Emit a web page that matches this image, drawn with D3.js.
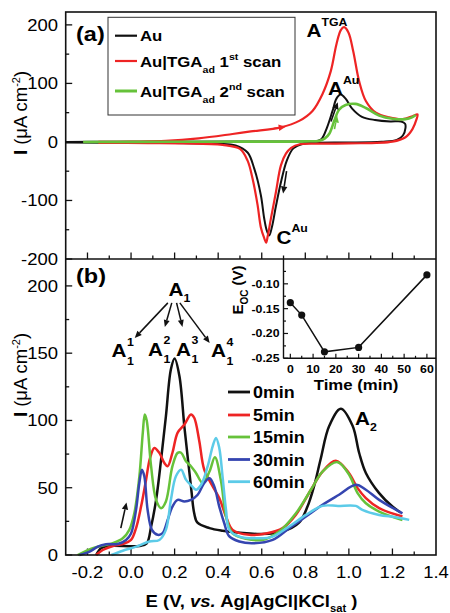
<!DOCTYPE html>
<html><head><meta charset="utf-8">
<script src="https://cdn.jsdelivr.net/npm/d3@7"></script>
<style>body{margin:0;background:#fff}svg{display:block}</style>
</head><body>
<svg id="chart" width="450" height="613"></svg>
<script>
// ---------- DATA ----------
// Panel (a): cyclic voltammograms [E (V), I (uA cm-2)]
const cvAu = [[-0.3,0],[-0.1,0.2],[0.2,0.4],[0.5,0.6],[0.8,0.8],[0.855,1.5],[0.875,5],[0.9,25],[0.925,53],[0.943,74],[0.962,81],[0.985,74],[1.015,57],[1.06,43],[1.12,37.5],[1.19,35],[1.24,35],[1.258,31],[1.26,24],[1.248,11],[1.22,3.5],[1.15,0.5],[1.0,-1],[0.85,-1.5],[0.79,-3],[0.745,-11],[0.715,-32],[0.69,-66],[0.665,-110],[0.647,-145],[0.634,-160],[0.622,-150],[0.611,-130],[0.596,-91],[0.566,-46],[0.535,-18],[0.48,-6],[0.4,-3],[0.2,-2],[0,-1.5],[-0.3,-1]];
const cvTga1 = [[-0.15,0],[0.0,0.5],[0.16,1.7],[0.31,6],[0.466,13.6],[0.55,18],[0.688,25],[0.772,36],[0.833,53],[0.879,82],[0.917,121],[0.943,167],[0.963,191],[0.978,196],[0.998,187],[1.02,155],[1.047,104],[1.078,70],[1.124,50],[1.185,42],[1.246,39],[1.292,44],[1.315,47],[1.31,38],[1.292,22],[1.26,8],[1.2,0.5],[1.0,-2.5],[0.85,-3],[0.775,-4],[0.735,-10],[0.711,-20],[0.688,-40],[0.665,-86],[0.642,-131],[0.628,-160],[0.62,-172],[0.612,-165],[0.596,-146],[0.581,-108],[0.558,-63],[0.535,-32],[0.5,-12],[0.42,-5],[0.24,-2.5],[0.08,-2],[-0.15,-1.5]];
const cvTga2 = [[-0.22,0],[0.2,0.3],[0.5,0.5],[0.8,1],[0.865,2],[0.89,6],[0.91,14],[0.933,36],[0.955,55],[0.985,63],[1.03,65],[1.078,58],[1.139,45],[1.2,39.5],[1.26,39],[1.29,42],[1.307,46]];

// Panel (b): oxidation scans after different times
const scan0 = [[-0.16,0],[-0.138,5],[-0.1,6.7],[0.038,6.7],[0.072,8.7],[0.092,21],[0.115,41],[0.138,71],[0.16,103],[0.183,138],[0.2,146],[0.222,133],[0.245,95],[0.262,70],[0.277,48],[0.29,31],[0.305,24],[0.36,20],[0.42,18],[0.5,16.5],[0.6,15.6],[0.695,17.4],[0.77,23.8],[0.81,36],[0.84,51],[0.87,71],[0.91,96],[0.963,108.7],[1.017,96],[1.047,76],[1.078,61],[1.139,46],[1.2,36],[1.238,31.6]];
const scan5 = [[-0.16,0],[-0.13,3.7],[-0.084,6.7],[-0.038,8.2],[0,11.2],[0.023,20],[0.046,36],[0.069,56],[0.087,72],[0.107,79.6],[0.13,75.9],[0.153,68.4],[0.168,66],[0.19,76],[0.214,91],[0.245,97],[0.275,104.5],[0.29,102],[0.313,85],[0.336,63.4],[0.375,51],[0.405,42.3],[0.436,28.6],[0.466,18.7],[0.543,15],[0.62,16],[0.696,20],[0.757,30],[0.826,48.5],[0.879,62],[0.94,70],[1.0,61],[1.04,49.7],[1.078,42.3],[1.139,34.8],[1.246,28.6]];
const scan15 = [[-0.245,0],[-0.176,5],[-0.13,7],[-0.084,8.7],[-0.038,12.4],[-0.008,18.7],[0.015,31],[0.038,58],[0.054,91],[0.063,104.5],[0.072,100],[0.092,66],[0.115,41],[0.138,34.8],[0.16,39.8],[0.19,66],[0.214,75.9],[0.23,76],[0.252,69.7],[0.275,66],[0.298,61],[0.329,53.5],[0.36,62],[0.385,72.6],[0.413,55],[0.436,28.6],[0.466,16],[0.528,12],[0.604,11.2],[0.68,17.4],[0.757,31],[0.826,48.5],[0.879,62],[0.948,69],[1.0,60],[1.04,46],[1.078,38.5],[1.139,32.3],[1.246,26]];
const scan30 = [[-0.237,0],[-0.19,2.5],[-0.153,6.2],[-0.115,8],[-0.061,8.2],[-0.023,11.2],[0,16],[0.023,33.6],[0.038,53.5],[0.05,63.4],[0.061,58.5],[0.076,33.6],[0.096,18.7],[0.122,15],[0.145,16.2],[0.168,26],[0.19,36],[0.214,41],[0.245,39.8],[0.275,41],[0.306,44.8],[0.336,53.5],[0.36,57],[0.382,51],[0.405,36],[0.428,23.6],[0.45,14],[0.497,10],[0.558,8.7],[0.65,11.2],[0.726,19.9],[0.803,28.6],[0.879,37.3],[0.955,44.8],[1.032,52.2],[1.078,48.5],[1.139,41],[1.246,31]];
const scan60 = [[-0.09,0],[-0.038,3.2],[0.023,6.2],[0.084,10],[0.13,11.2],[0.16,18.7],[0.183,41],[0.206,58.5],[0.23,63.4],[0.252,56],[0.275,52],[0.298,48.5],[0.321,52],[0.352,66],[0.375,81],[0.39,87],[0.405,79.6],[0.42,58.5],[0.436,33.6],[0.451,18.7],[0.497,13.7],[0.59,12.4],[0.65,13.7],[0.726,21.2],[0.803,29.8],[0.879,36.5],[0.95,36.5],[1.032,36.5],[1.062,33.6],[1.139,29.8],[1.215,28.1],[1.277,26.1]];

// Inset: open-circuit potential vs time
const eocTime = [0, 5, 15, 30, 60];
const eocValue = [-0.138, -0.163, -0.237, -0.228, -0.082];

// Tick labels
const eTickLabels = ["-0.2","0.0","0.2","0.4","0.6","0.8","1.0","1.2","1.4"];
const eTickValues = [-0.2,0,0.2,0.4,0.6,0.8,1.0,1.2,1.4];
const iTicksA = [-200,-100,0,100,200];
const iTicksB = [0,50,100,150,200];
const eocTicks = [-0.25,-0.20,-0.15,-0.10];
const eocTickLabels = ["-0.25","-0.20","-0.15","-0.10"];
const timeTicks = [0,10,20,30,40,50,60];

// Legends
const legendA = ["Au","Au|TGA 1st","Au|TGA 2nd"];
const legendB = ["0min","5min","15min","30min","60min"];

// ---------- DRAWING ----------
const FONT = "'Liberation Sans', Arial, Helvetica, sans-serif";
const SX = 1.12;
const svg = d3.select("#chart").attr("font-family", FONT);
const L = 65.7, R = 436, T = 12, MID = 259, B = 555;

const x = d3.scaleLinear().domain([-0.3, 1.4]).range([L, R]);
const yA = d3.scaleLinear().domain([-200, 222]).range([MID, T]);
const yB = d3.scaleLinear().domain([0, 220]).range([B, MID]);
const xI = d3.scaleLinear().domain([-3, 64]).range([283.5, R]);
const yI = d3.scaleLinear().domain([-0.25, -0.05]).range([358.3, MID]);

function txt(g, px, py, str, o = {}) {
  const t = g.append("text")
    .attr("transform", `translate(${px},${py}) scale(${o.sx || SX},1)`)
    .attr("font-size", o.size || 16)
    .attr("font-weight", o.weight || "normal")
    .attr("text-anchor", o.anchor || "start")
    .attr("fill", o.fill || "#000");
  if (o.style) t.attr("font-style", o.style);
  if (str !== null) t.text(str);
  return t;
}

const colors = {black:"#111111", red:"#ee2424", green:"#66c23a", blue:"#3545b0", cyan:"#5ccbe8"};
const lineA = d3.line().x(d => x(d[0])).y(d => yA(d[1])).curve(d3.curveCatmullRom.alpha(0.5));
const lineB = d3.line().x(d => x(d[0])).y(d => yB(d[1])).curve(d3.curveCatmullRom.alpha(0.5));

// ticks helper
function ticksLeft(scale, values, majorFn) {
  const g = svg.append("g").attr("stroke", "#111").attr("stroke-width", 1.3);
  values.forEach((v, i) => {
    const len = majorFn(i) ? 6.5 : 3.5;
    g.append("line").attr("x1", L).attr("x2", L + len).attr("y1", scale(v)).attr("y2", scale(v));
  });
}
function ticksBottom(yPos, scale, values, majorFn, x0) {
  const g = svg.append("g").attr("stroke", "#111").attr("stroke-width", 1.3);
  values.forEach((v, i) => {
    const len = majorFn(i) ? 6.5 : 3.5;
    g.append("line").attr("x1", scale(v)).attr("x2", scale(v)).attr("y1", yPos).attr("y2", yPos - len);
  });
}

const eMinor = d3.range(-2, 14).map(k => k / 10);          // -0.2 .. 1.3 every 0.1
ticksBottom(MID, x, eMinor, i => i % 2 === 0);
ticksBottom(B, x, eMinor, i => i % 2 === 0);
ticksLeft(yA, d3.range(-4, 5).map(k => k * 50), i => i % 2 === 0);
ticksLeft(yB, d3.range(0, 9).map(k => k * 25), i => i % 2 === 0);

// y tick labels
iTicksA.forEach(v => txt(svg, 58, yA(v) + 6, String(v), {size: 16.5, anchor: "end"}));
iTicksB.forEach(v => txt(svg, 58, yB(v) + 6, String(v), {size: 16.5, anchor: "end"}));
// x tick labels
eTickValues.forEach((v, i) => txt(svg, x(v), 578, eTickLabels[i], {size: 16.5, anchor: "middle"}));

// ---------- Panel (a) curves ----------
const gA = svg.append("g").attr("fill", "none").attr("stroke-linejoin", "round");
gA.append("path").attr("d", lineA(cvAu)).attr("stroke", colors.black).attr("stroke-width", 2);
gA.append("path").attr("d", lineA(cvTga1)).attr("stroke", colors.red).attr("stroke-width", 2.2);
gA.append("path").attr("d", lineA(cvTga2)).attr("stroke", colors.green).attr("stroke-width", 2.6);

// arrows
function arrow(g, p1, p2, color, w = 1.6, hl = 7, hw = 3.2) {
  const [x1, y1] = p1, [x2, y2] = p2;
  const dx = x2 - x1, dy = y2 - y1, len = Math.hypot(dx, dy);
  const ux = dx / len, uy = dy / len;
  const bx = x2 - ux * hl, by = y2 - uy * hl;
  g.append("line").attr("x1", x1).attr("y1", y1).attr("x2", bx).attr("y2", by)
    .attr("stroke", color).attr("stroke-width", w);
  g.append("path").attr("d", `M${x2},${y2}L${bx - uy * hw},${by + ux * hw}L${bx + uy * hw},${by - ux * hw}Z`)
    .attr("fill", color);
}
const arrowsA = [
  {from:[0.655,23], to:[0.71,26], c:colors.red},
  {from:[0.918,35], to:[0.949,68], c:colors.black},
  {from:[0.934,22], to:[0.946,45], c:colors.green},
  {from:[0.714,-50], to:[0.698,-88], c:colors.black}
];
const gArr = svg.append("g");
arrowsA.forEach(a => arrow(gArr, [x(a.from[0]), yA(a.from[1])], [x(a.to[0]), yA(a.to[1])], a.c));

// legend a
svg.append("rect").attr("x", 108).attr("y", 17.3).attr("width", 187).attr("height", 97.7)
  .attr("fill", "none").attr("stroke", "#333").attr("stroke-width", 1);
const legARows = [35.7, 61, 91];
const legAColors = [colors.black, colors.red, colors.green];
legARows.forEach((yy, i) => {
  svg.append("line").attr("x1", 115).attr("x2", 137).attr("y1", yy).attr("y2", yy)
    .attr("stroke", legAColors[i]).attr("stroke-width", i === 2 ? 3 : 2.2);
});
txt(svg, 140, 41, legendA[0], {size: 15, weight: "bold"});
[1, 2].forEach(i => {
  const t = txt(svg, 140, legARows[i] + 5.5, null, {size: 15, weight: "bold"});
  const parts = legendA[i].split(" ");
  t.append("tspan").text(parts[0]);
  t.append("tspan").attr("font-size", 9.5).attr("dy", 6).text("ad");
  const num = parts[1].slice(0, 1), sup = parts[1].slice(1);
  t.append("tspan").attr("dy", -6).text(" " + num);
  t.append("tspan").attr("font-size", 9.5).attr("dy", -7).text(sup);
  t.append("tspan").attr("dy", 7).text(" scan");
});

// panel labels
txt(svg, 76, 40.5, "(a)", {size: 21, weight: "bold"});
txt(svg, 76, 283, "(b)", {size: 21, weight: "bold"});

// peak annotations (a)
function supLabel(g, px, py, main, sup, size = 18.5, supSize = 11) {
  const t = txt(g, px, py, null, {size: size, weight: "bold"});
  t.append("tspan").text(main);
  t.append("tspan").attr("font-size", supSize).attr("dy", -size * 0.6).text(sup);
}
supLabel(svg, 306.5, 36.7, "A", "TGA");
supLabel(svg, 328, 95, "A", "Au");
supLabel(svg, 276.5, 243.5, "C", "Au");

// ---------- Panel (b) curves ----------
const scans = [scan0, scan5, scan15, scan30, scan60];
const scanColors = [colors.black, colors.red, colors.green, colors.blue, colors.cyan];
const gB = svg.append("g").attr("fill", "none").attr("stroke-linejoin", "round");
scans.forEach((s, i) => gB.append("path").attr("d", lineB(s)).attr("stroke", scanColors[i]).attr("stroke-width", 2.5));

arrow(svg, [x(-0.047), yB(20)], [x(-0.021), yB(39)], colors.black, 1.6, 7, 3.2);

// A1 splitting annotation
txt(svg, 168.5, 295.5, null, {size: 18.5, weight: "bold"}).call(t => {
  t.append("tspan").text("A");
  t.append("tspan").attr("font-size", 11).attr("dy", 6).text("1");
});
const splitArrows = [
  {from:[0.169,187.4], to:[0.017,161.3]},
  {from:[0.187,187.4], to:[0.155,169.5]},
  {from:[0.209,187.4], to:[0.236,169.5]},
  {from:[0.224,187.4], to:[0.361,157.6]}
];
splitArrows.forEach(a => arrow(svg, [x(a.from[0]), yB(a.from[1])], [x(a.to[0]), yB(a.to[1])], colors.black, 1.5, 7, 3));
const subLabelsX = [111.5, 148, 176, 211];
subLabelsX.forEach((px, i) => {
  const yb = (i === 1 || i === 2) ? 355.5 : 357;
  txt(svg, px, yb, "A", {size: 18.5, weight: "bold"});
  txt(svg, px + 15.5, yb - 11.5, String(i + 1), {size: 11, weight: "bold"});
  txt(svg, px + 15.5, yb + 7.5, "1", {size: 11, weight: "bold"});
});
txt(svg, 355, 425, null, {size: 18.5, weight: "bold"}).call(t => {
  t.append("tspan").text("A");
  t.append("tspan").attr("font-size", 11).attr("dy", 6).text("2");
});

// legend b
const legBRows = [392, 415, 437, 459.5, 481.7];
legBRows.forEach((yy, i) => {
  svg.append("line").attr("x1", 228).attr("x2", 250).attr("y1", yy).attr("y2", yy)
    .attr("stroke", scanColors[i]).attr("stroke-width", 2.8);
  txt(svg, 253, yy + 6, legendB[i], {size: 16, weight: "bold"});
});

// ---------- Inset ----------
const gI = svg.append("g");
gI.append("line").attr("x1", xI.range()[0]).attr("x2", xI.range()[0]).attr("y1", MID).attr("y2", yI(-0.25))
  .attr("stroke", "#111").attr("stroke-width", 1.4);
gI.append("line").attr("x1", xI.range()[0]).attr("x2", R).attr("y1", yI(-0.25)).attr("y2", yI(-0.25))
  .attr("stroke", "#111").attr("stroke-width", 1.4);
d3.range(0, 13).map(k => k * 5).forEach((v, i) => {
  const len = i % 2 === 0 ? 4.5 : 2.5;
  gI.append("line").attr("x1", xI(v)).attr("x2", xI(v)).attr("y1", yI(-0.25)).attr("y2", yI(-0.25) - len)
    .attr("stroke", "#111").attr("stroke-width", 1.2);
});
d3.range(0, 8).map(k => -0.25 + k * 0.025).forEach((v, i) => {
  const len = i % 2 === 0 ? 4.5 : 2.5;
  gI.append("line").attr("x1", xI.range()[0]).attr("x2", xI.range()[0] + len).attr("y1", yI(v)).attr("y2", yI(v))
    .attr("stroke", "#111").attr("stroke-width", 1.2);
});
eocTicks.forEach((v, i) => txt(gI, 279.5, yI(v) + 4, eocTickLabels[i], {size: 11, weight: "bold", anchor: "end"}));
timeTicks.forEach(v => txt(gI, xI(v), 373, String(v), {size: 11, weight: "bold", anchor: "middle"}));
txt(gI, 356, 390, "Time (min)", {size: 15, weight: "bold", anchor: "middle"});
const yl = gI.append("text").attr("transform", "translate(243,290) rotate(-90)")
  .attr("text-anchor", "middle").attr("font-size", 15).attr("font-weight", "bold");
yl.append("tspan").text("E");
yl.append("tspan").attr("font-size", 10).attr("dy", 5).text("OC");
yl.append("tspan").attr("dy", -5).text(" (V)");

const eocPts = eocTime.map((t, i) => [t, eocValue[i]]);
gI.append("path").attr("d", d3.line().x(d => xI(d[0])).y(d => yI(d[1]))(eocPts))
  .attr("fill", "none").attr("stroke", "#111").attr("stroke-width", 1.5);
gI.selectAll("circle.p").data(eocPts).join("circle")
  .attr("cx", d => xI(d[0])).attr("cy", d => yI(d[1])).attr("r", 3.6).attr("fill", "#111");

// ---------- Frame ----------
svg.append("rect").attr("x", L).attr("y", T).attr("width", R - L).attr("height", B - T)
  .attr("fill", "none").attr("stroke", "#111").attr("stroke-width", 1.6);
svg.append("line").attr("x1", L).attr("x2", R).attr("y1", MID).attr("y2", MID)
  .attr("stroke", "#111").attr("stroke-width", 1.6);

// ---------- Axis titles ----------
function iLabel(cy) {
  const t = svg.append("text").attr("transform", `translate(27,${cy}) rotate(-90)`)
    .attr("text-anchor", "middle").attr("font-size", 18.5);
  t.append("tspan").attr("font-weight", "bold").text("I");
  t.append("tspan").text(" (\u03bcA cm");
  t.append("tspan").attr("font-size", 11).attr("dy", -7).text("-2");
  t.append("tspan").attr("dy", 7).text(")");
}
iLabel(113);
iLabel(375);

const xl = txt(svg, 251.5, 607, null, {size: 16.5, weight: "bold", anchor: "middle"});
xl.append("tspan").text("E (V, ");
xl.append("tspan").attr("font-style", "italic").text("vs.");
xl.append("tspan").text(" Ag|AgCl|KCl");
xl.append("tspan").attr("font-size", 10).attr("dy", 5).text("sat");
xl.append("tspan").attr("dy", -5).text(" )");
</script>
</body></html>
